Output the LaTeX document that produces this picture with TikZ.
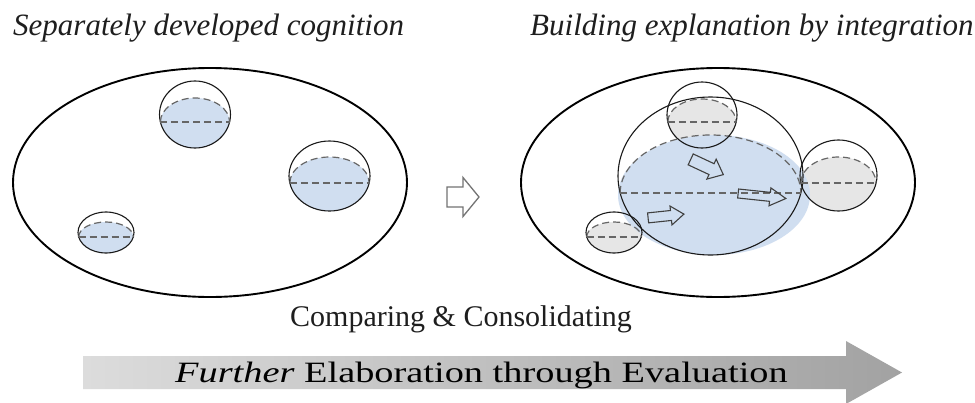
\documentclass[tikz,border=0pt]{standalone}
\usepackage{fontspec}
\setmainfont{Liberation Serif}
\definecolor{bluefill}{HTML}{D0DEF0}
\definecolor{grayfill}{HTML}{E6E6E6}
\definecolor{dashgray}{HTML}{666666}
\definecolor{arrowL}{HTML}{DCDCDC}
\definecolor{arrowR}{HTML}{A2A2A2}
\definecolor{txt}{HTML}{1E1E1E}
\tikzset{
  outerell/.style={draw=black, line width=1.9pt},
  sphereline/.style={draw=black!90, line width=1.1pt},
  dashline/.style={draw=dashgray, line width=1.2pt, dash pattern=on 7pt off 4pt},
  smallarrow/.style={draw=black!75, line width=1.1pt, line join=miter},
  midarrow/.style={draw=black!55, line width=1.3pt, fill=white},
  titletext/.style={anchor=base west, inner sep=0pt, text=txt, font=\fontsize{31}{36}\selectfont\itshape},
}
\newcommand\spfill[7]{%
  \pgfmathsetmacro\spw{#3*sqrt(1-((#5-#2)/#4)^2)}%
  \pgfmathsetmacro\sph{#5-#6}%
  \begin{scope}
    \clip (#1,#2) ellipse [x radius=#3, y radius=#4];
    \fill[#7] (#1,#5) ellipse [x radius=\spw, y radius=\sph];
    \fill[#7] (#1-#3,#5) rectangle (#1+#3,#2+#4+1);
  \end{scope}}
\newcommand\spline[6]{%
  \pgfmathsetmacro\spw{#3*sqrt(1-((#5-#2)/#4)^2)}%
  \pgfmathsetmacro\sph{#5-#6}%
  \draw[sphereline] (#1,#2) ellipse [x radius=#3, y radius=#4];
  \draw[dashline] (#1-\spw,#5) -- (#1+\spw,#5);
  \draw[dashline] (#1-\spw,#5) arc[start angle=180, end angle=360, x radius=\spw, y radius=\sph];}
\newcommand\blockarrow[8]{%
  \begin{scope}[shift={(#1,#2)}, rotate=#3]
    \draw[#8] (-#4/2,-#5) -- (#4/2-#7,-#5) -- (#4/2-#7,-#6) -- (#4/2,0)
      -- (#4/2-#7,#6) -- (#4/2-#7,#5) -- (-#4/2,#5) -- cycle;
  \end{scope}}
\begin{document}
\begin{tikzpicture}[x=1pt, y=-1pt]
\useasboundingbox (0,0) rectangle (975,402);
\clip (0,0) rectangle (975,402);
\fill[white] (0,0) rectangle (975,402);

% titles
\node[titletext] (title1) at (13,35) {Separately developed cognition};
\node[titletext] (title2) at (530,35) {Building explanation by integration};

% left panel
\spfill{195}{114.5}{35.5}{33.5}{122}{98}{bluefill}
\spfill{329.5}{176}{40.5}{35}{183}{157}{bluefill}
\spfill{106}{232.5}{28}{20.5}{237}{222}{bluefill}
\draw[outerell] (210,182.5) ellipse [x radius=197, y radius=114.5];
\spline{195}{114.5}{35.5}{33.5}{122}{98}
\spline{329.5}{176}{40.5}{35}{183}{157}
\spline{106}{232.5}{28}{20.5}{237}{222}

% middle arrow
\blockarrow{463}{197}{0}{32}{10}{19.5}{16}{midarrow}

% right panel
\spfill{702}{115}{35}{33}{122}{99}{grayfill}
\spfill{838.5}{175.5}{38.5}{35.5}{183}{157}{grayfill}
\spfill{614}{232.5}{28}{20.5}{237}{222}{grayfill}
\fill[bluefill] (714,195) ellipse [x radius=96, y radius=60];
\draw[outerell] (718,182.5) ellipse [x radius=197, y radius=114.5];
\spline{710.5}{176}{92.5}{79}{193}{135}
\spline{702}{115}{35}{33}{122}{99}
\spline{838.5}{175.5}{38.5}{35.5}{183}{157}
\spline{614}{232.5}{28}{20.5}{237}{222}

% inner arrows
\blockarrow{707}{167}{-25}{36}{6}{11}{13}{smallarrow}
\blockarrow{762}{196}{-6}{48}{4.5}{9}{16}{smallarrow}
\blockarrow{666}{216}{6}{36}{5}{9.5}{13}{smallarrow}

% bottom
\node[anchor=base west, inner sep=0pt, text=txt, font=\fontsize{30}{36}\selectfont] (compare) at (290,326) {Comparing \& Consolidating};
\shade[left color=arrowL, right color=arrowR] (83,356) -- (846,356) -- (846,341) -- (902,372.5) -- (846,404) -- (846,389) -- (83,389) -- cycle;
\node[anchor=base west, inner sep=0pt, text=black, font=\fontsize{29.5}{34}\selectfont] (further) at (175,382) {\scalebox{1.3}[1]{\textit{Further} Elaboration through Evaluation}};
\end{tikzpicture}
\end{document}
